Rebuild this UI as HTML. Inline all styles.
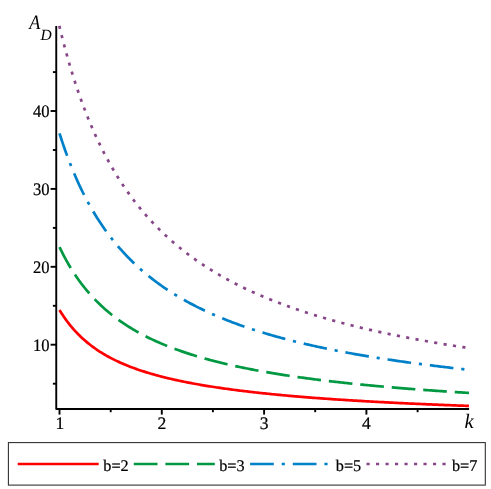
<!DOCTYPE html>
<html><head><meta charset="utf-8"><title>plot</title>
<style>html,body{margin:0;padding:0;background:#fff}svg{display:block}</style></head>
<body>
<svg width="491" height="489" viewBox="0 0 491 489" style="will-change:transform">
<rect width="491" height="489" fill="#fff"/>
<path d="M59.50,310.04 L61.00,312.46 L62.50,314.78 L64.00,317.01 L65.50,319.14 L67.00,321.19 L68.50,323.16 L70.00,325.06 L71.50,326.88 L73.00,328.64 L74.50,330.33 L76.00,331.96 L77.50,333.53 L79.00,335.04 L80.50,336.51 L82.00,337.92 L83.50,339.29 L85.00,340.61 L86.50,341.89 L88.00,343.12 L89.50,344.32 L91.00,345.48 L92.50,346.61 L94.00,347.70 L95.50,348.76 L97.00,349.79 L98.50,350.79 L100.00,351.76 L101.50,352.70 L103.00,353.62 L104.50,354.51 L106.00,355.38 L107.50,356.22 L109.00,357.05 L110.50,357.85 L112.00,358.63 L113.50,359.39 L115.00,360.13 L116.50,360.85 L118.00,361.56 L119.50,362.25 L121.00,362.92 L122.50,363.58 L124.00,364.22 L125.50,364.85 L127.00,365.47 L128.50,366.07 L130.00,366.65 L131.50,367.23 L133.00,367.79 L134.50,368.34 L136.00,368.88 L137.50,369.41 L139.00,369.92 L140.50,370.43 L142.00,370.93 L143.50,371.41 L145.00,371.89 L146.50,372.36 L148.00,372.82 L149.50,373.27 L151.00,373.71 L152.50,374.14 L154.00,374.57 L155.50,374.99 L157.00,375.40 L158.50,375.80 L160.00,376.20 L161.50,376.59 L163.00,376.97 L164.50,377.35 L166.00,377.72 L167.50,378.08 L169.00,378.44 L170.50,378.79 L172.00,379.14 L173.50,379.48 L175.00,379.81 L176.50,380.14 L178.00,380.47 L179.50,380.79 L181.00,381.10 L182.50,381.41 L184.00,381.72 L185.50,382.02 L187.00,382.32 L188.50,382.61 L190.00,382.90 L191.50,383.18 L193.00,383.46 L194.50,383.74 L196.00,384.01 L197.50,384.28 L199.00,384.54 L200.50,384.80 L202.00,385.06 L203.50,385.31 L205.00,385.57 L206.50,385.81 L208.00,386.06 L209.50,386.30 L211.00,386.54 L212.50,386.77 L214.00,387.00 L215.50,387.23 L217.00,387.46 L218.50,387.68 L220.00,387.90 L221.50,388.12 L223.00,388.33 L224.50,388.55 L226.00,388.76 L227.50,388.96 L229.00,389.17 L230.50,389.37 L232.00,389.57 L233.50,389.77 L235.00,389.97 L236.50,390.16 L238.00,390.35 L239.50,390.54 L241.00,390.73 L242.50,390.91 L244.00,391.09 L245.50,391.28 L247.00,391.45 L248.50,391.63 L250.00,391.81 L251.50,391.98 L253.00,392.15 L254.50,392.32 L256.00,392.49 L257.50,392.66 L259.00,392.82 L260.50,392.98 L262.00,393.14 L263.50,393.30 L265.00,393.46 L266.50,393.62 L268.00,393.77 L269.50,393.92 L271.00,394.08 L272.50,394.23 L274.00,394.38 L275.50,394.52 L277.00,394.67 L278.50,394.81 L280.00,394.96 L281.50,395.10 L283.00,395.24 L284.50,395.38 L286.00,395.52 L287.50,395.65 L289.00,395.79 L290.50,395.92 L292.00,396.05 L293.50,396.19 L295.00,396.32 L296.50,396.44 L298.00,396.57 L299.50,396.70 L301.00,396.83 L302.50,396.95 L304.00,397.07 L305.50,397.20 L307.00,397.31 L308.50,397.43 L310.00,397.55 L311.50,397.66 L313.00,397.78 L314.50,397.89 L316.00,398.00 L317.50,398.11 L319.00,398.22 L320.50,398.33 L322.00,398.44 L323.50,398.55 L325.00,398.66 L326.50,398.76 L328.00,398.87 L329.50,398.97 L331.00,399.07 L332.50,399.18 L334.00,399.28 L335.50,399.38 L337.00,399.48 L338.50,399.58 L340.00,399.68 L341.50,399.77 L343.00,399.87 L344.50,399.97 L346.00,400.06 L347.50,400.16 L349.00,400.25 L350.50,400.34 L352.00,400.43 L353.50,400.53 L355.00,400.62 L356.50,400.71 L358.00,400.80 L359.50,400.88 L361.00,400.97 L362.50,401.06 L364.00,401.15 L365.50,401.23 L367.00,401.32 L368.50,401.40 L370.00,401.49 L371.50,401.57 L373.00,401.65 L374.50,401.74 L376.00,401.82 L377.50,401.90 L379.00,401.98 L380.50,402.06 L382.00,402.14 L383.50,402.22 L385.00,402.30 L386.50,402.37 L388.00,402.45 L389.50,402.53 L391.00,402.60 L392.50,402.68 L394.00,402.75 L395.50,402.83 L397.00,402.90 L398.50,402.98 L400.00,403.05 L401.50,403.12 L403.00,403.19 L404.50,403.27 L406.00,403.34 L407.50,403.41 L409.00,403.48 L410.50,403.55 L412.00,403.62 L413.50,403.68 L415.00,403.75 L416.50,403.82 L418.00,403.89 L419.50,403.95 L421.00,404.02 L422.50,404.09 L424.00,404.15 L425.50,404.22 L427.00,404.28 L428.50,404.35 L430.00,404.41 L431.50,404.47 L433.00,404.54 L434.50,404.60 L436.00,404.66 L437.50,404.72 L439.00,404.78 L440.50,404.84 L442.00,404.91 L443.50,404.97 L445.00,405.03 L446.50,405.08 L448.00,405.14 L449.50,405.20 L451.00,405.26 L452.50,405.32 L454.00,405.38 L455.50,405.43 L457.00,405.49 L458.50,405.55 L460.00,405.60 L461.50,405.66 L463.00,405.72 L464.50,405.77 L466.00,405.83 L467.50,405.88 L469.00,405.94" fill="none" stroke="#ff0000" stroke-width="2.7"/>
<path d="M59.50,247.06 L61.00,250.17 L62.50,253.18 L64.00,256.08 L65.50,258.88 L67.00,261.59 L68.50,264.22 L70.00,266.75 L71.50,269.21 L73.00,271.59 L74.50,273.90 L76.00,276.14 L77.50,278.31 L79.00,280.41 L80.50,282.46 L82.00,284.45 L83.50,286.38 L85.00,288.26 L86.50,290.08 L88.00,291.86 L89.50,293.59 L91.00,295.28 L92.50,296.92 L94.00,298.51 L95.50,300.07 L97.00,301.59 L98.50,303.08 L100.00,304.52 L101.50,305.93 L103.00,307.31 L104.50,308.66 L106.00,309.97 L107.50,311.25 L109.00,312.51 L110.50,313.74 L112.00,314.94 L113.50,316.11 L115.00,317.26 L116.50,318.38 L118.00,319.48 L119.50,320.56 L121.00,321.61 L122.50,322.64 L124.00,323.66 L125.50,324.65 L127.00,325.62 L128.50,326.57 L130.00,327.50 L131.50,328.42 L133.00,329.32 L134.50,330.20 L136.00,331.06 L137.50,331.91 L139.00,332.74 L140.50,333.56 L142.00,334.37 L143.50,335.15 L145.00,335.93 L146.50,336.69 L148.00,337.44 L149.50,338.17 L151.00,338.89 L152.50,339.60 L154.00,340.30 L155.50,340.99 L157.00,341.66 L158.50,342.33 L160.00,342.98 L161.50,343.62 L163.00,344.25 L164.50,344.88 L166.00,345.49 L167.50,346.09 L169.00,346.68 L170.50,347.27 L172.00,347.84 L173.50,348.41 L175.00,348.97 L176.50,349.52 L178.00,350.06 L179.50,350.59 L181.00,351.12 L182.50,351.64 L184.00,352.15 L185.50,352.65 L187.00,353.15 L188.50,353.64 L190.00,354.12 L191.50,354.59 L193.00,355.06 L194.50,355.53 L196.00,355.98 L197.50,356.43 L199.00,356.88 L200.50,357.31 L202.00,357.75 L203.50,358.17 L205.00,358.60 L206.50,359.01 L208.00,359.42 L209.50,359.83 L211.00,360.23 L212.50,360.62 L214.00,361.01 L215.50,361.40 L217.00,361.78 L218.50,362.15 L220.00,362.52 L221.50,362.89 L223.00,363.25 L224.50,363.61 L226.00,363.96 L227.50,364.31 L229.00,364.66 L230.50,365.00 L232.00,365.34 L233.50,365.67 L235.00,366.00 L236.50,366.33 L238.00,366.65 L239.50,366.97 L241.00,367.28 L242.50,367.59 L244.00,367.90 L245.50,368.20 L247.00,368.50 L248.50,368.80 L250.00,369.10 L251.50,369.39 L253.00,369.68 L254.50,369.96 L256.00,370.24 L257.50,370.52 L259.00,370.80 L260.50,371.07 L262.00,371.34 L263.50,371.61 L265.00,371.87 L266.50,372.14 L268.00,372.39 L269.50,372.65 L271.00,372.91 L272.50,373.16 L274.00,373.41 L275.50,373.65 L277.00,373.90 L278.50,374.14 L280.00,374.38 L281.50,374.61 L283.00,374.85 L284.50,375.08 L286.00,375.31 L287.50,375.54 L289.00,375.77 L290.50,375.99 L292.00,376.21 L293.50,376.43 L295.00,376.65 L296.50,376.86 L298.00,377.08 L299.50,377.29 L301.00,377.50 L302.50,377.70 L304.00,377.91 L305.50,378.11 L307.00,378.32 L308.50,378.52 L310.00,378.71 L311.50,378.91 L313.00,379.11 L314.50,379.30 L316.00,379.49 L317.50,379.68 L319.00,379.87 L320.50,380.06 L322.00,380.24 L323.50,380.42 L325.00,380.61 L326.50,380.79 L328.00,380.96 L329.50,381.14 L331.00,381.32 L332.50,381.49 L334.00,381.66 L335.50,381.84 L337.00,382.01 L338.50,382.17 L340.00,382.34 L341.50,382.51 L343.00,382.67 L344.50,382.83 L346.00,383.00 L347.50,383.16 L349.00,383.32 L350.50,383.47 L352.00,383.63 L353.50,383.79 L355.00,383.94 L356.50,384.09 L358.00,384.24 L359.50,384.40 L361.00,384.54 L362.50,384.69 L364.00,384.84 L365.50,384.99 L367.00,385.13 L368.50,385.28 L370.00,385.42 L371.50,385.56 L373.00,385.70 L374.50,385.84 L376.00,385.98 L377.50,386.12 L379.00,386.25 L380.50,386.39 L382.00,386.52 L383.50,386.66 L385.00,386.79 L386.50,386.92 L388.00,387.05 L389.50,387.18 L391.00,387.31 L392.50,387.44 L394.00,387.56 L395.50,387.69 L397.00,387.81 L398.50,387.94 L400.00,388.06 L401.50,388.18 L403.00,388.31 L404.50,388.43 L406.00,388.55 L407.50,388.67 L409.00,388.78 L410.50,388.90 L412.00,389.02 L413.50,389.13 L415.00,389.25 L416.50,389.36 L418.00,389.48 L419.50,389.59 L421.00,389.70 L422.50,389.81 L424.00,389.92 L425.50,390.03 L427.00,390.14 L428.50,390.25 L430.00,390.36 L431.50,390.47 L433.00,390.57 L434.50,390.68 L436.00,390.78 L437.50,390.89 L439.00,390.99 L440.50,391.09 L442.00,391.20 L443.50,391.30 L445.00,391.40 L446.50,391.50 L448.00,391.60 L449.50,391.70 L451.00,391.80 L452.50,391.89 L454.00,391.99 L455.50,392.09 L457.00,392.18 L458.50,392.28 L460.00,392.37 L461.50,392.47 L463.00,392.56 L464.50,392.65 L466.00,392.75 L467.50,392.84 L469.00,392.93" fill="none" stroke="#009942" stroke-width="2.7" stroke-dasharray="23.700 7.900"/>
<path d="M59.50,133.29 L61.00,138.01 L62.50,142.58 L64.00,146.99 L65.50,151.27 L67.00,155.41 L68.50,159.43 L70.00,163.33 L71.50,167.11 L73.00,170.78 L74.50,174.34 L76.00,177.80 L77.50,181.17 L79.00,184.44 L80.50,187.62 L82.00,190.72 L83.50,193.74 L85.00,196.67 L86.50,199.54 L88.00,202.32 L89.50,205.04 L91.00,207.70 L92.50,210.28 L94.00,212.81 L95.50,215.27 L97.00,217.68 L98.50,220.03 L100.00,222.33 L101.50,224.57 L103.00,226.77 L104.50,228.91 L106.00,231.01 L107.50,233.06 L109.00,235.07 L110.50,237.04 L112.00,238.97 L113.50,240.85 L115.00,242.70 L116.50,244.51 L118.00,246.28 L119.50,248.02 L121.00,249.72 L122.50,251.39 L124.00,253.03 L125.50,254.64 L127.00,256.21 L128.50,257.76 L130.00,259.28 L131.50,260.77 L133.00,262.23 L134.50,263.67 L136.00,265.08 L137.50,266.47 L139.00,267.83 L140.50,269.17 L142.00,270.48 L143.50,271.78 L145.00,273.05 L146.50,274.30 L148.00,275.52 L149.50,276.73 L151.00,277.92 L152.50,279.09 L154.00,280.24 L155.50,281.37 L157.00,282.49 L158.50,283.59 L160.00,284.67 L161.50,285.73 L163.00,286.78 L164.50,287.81 L166.00,288.82 L167.50,289.82 L169.00,290.81 L170.50,291.78 L172.00,292.74 L173.50,293.68 L175.00,294.61 L176.50,295.52 L178.00,296.43 L179.50,297.32 L181.00,298.19 L182.50,299.06 L184.00,299.91 L185.50,300.75 L187.00,301.58 L188.50,302.40 L190.00,303.21 L191.50,304.01 L193.00,304.80 L194.50,305.57 L196.00,306.34 L197.50,307.10 L199.00,307.84 L200.50,308.58 L202.00,309.31 L203.50,310.03 L205.00,310.73 L206.50,311.44 L208.00,312.13 L209.50,312.81 L211.00,313.49 L212.50,314.15 L214.00,314.81 L215.50,315.46 L217.00,316.10 L218.50,316.74 L220.00,317.37 L221.50,317.99 L223.00,318.60 L224.50,319.21 L226.00,319.81 L227.50,320.40 L229.00,320.98 L230.50,321.56 L232.00,322.14 L233.50,322.70 L235.00,323.26 L236.50,323.82 L238.00,324.36 L239.50,324.90 L241.00,325.44 L242.50,325.97 L244.00,326.49 L245.50,327.01 L247.00,327.52 L248.50,328.03 L250.00,328.53 L251.50,329.03 L253.00,329.52 L254.50,330.01 L256.00,330.49 L257.50,330.97 L259.00,331.44 L260.50,331.91 L262.00,332.37 L263.50,332.83 L265.00,333.28 L266.50,333.73 L268.00,334.17 L269.50,334.61 L271.00,335.05 L272.50,335.48 L274.00,335.90 L275.50,336.33 L277.00,336.75 L278.50,337.16 L280.00,337.57 L281.50,337.98 L283.00,338.38 L284.50,338.78 L286.00,339.18 L287.50,339.57 L289.00,339.96 L290.50,340.34 L292.00,340.72 L293.50,341.10 L295.00,341.47 L296.50,341.84 L298.00,342.21 L299.50,342.58 L301.00,342.94 L302.50,343.29 L304.00,343.65 L305.50,344.00 L307.00,344.35 L308.50,344.69 L310.00,345.04 L311.50,345.38 L313.00,345.71 L314.50,346.05 L316.00,346.38 L317.50,346.70 L319.00,347.03 L320.50,347.35 L322.00,347.67 L323.50,347.99 L325.00,348.30 L326.50,348.61 L328.00,348.92 L329.50,349.23 L331.00,349.53 L332.50,349.84 L334.00,350.13 L335.50,350.43 L337.00,350.73 L338.50,351.02 L340.00,351.31 L341.50,351.60 L343.00,351.88 L344.50,352.16 L346.00,352.44 L347.50,352.72 L349.00,353.00 L350.50,353.27 L352.00,353.54 L353.50,353.81 L355.00,354.08 L356.50,354.35 L358.00,354.61 L359.50,354.87 L361.00,355.13 L362.50,355.39 L364.00,355.65 L365.50,355.90 L367.00,356.15 L368.50,356.40 L370.00,356.65 L371.50,356.90 L373.00,357.14 L374.50,357.39 L376.00,357.63 L377.50,357.87 L379.00,358.11 L380.50,358.34 L382.00,358.58 L383.50,358.81 L385.00,359.04 L386.50,359.27 L388.00,359.50 L389.50,359.72 L391.00,359.95 L392.50,360.17 L394.00,360.39 L395.50,360.61 L397.00,360.83 L398.50,361.05 L400.00,361.26 L401.50,361.48 L403.00,361.69 L404.50,361.90 L406.00,362.11 L407.50,362.32 L409.00,362.52 L410.50,362.73 L412.00,362.93 L413.50,363.14 L415.00,363.34 L416.50,363.54 L418.00,363.73 L419.50,363.93 L421.00,364.13 L422.50,364.32 L424.00,364.52 L425.50,364.71 L427.00,364.90 L428.50,365.09 L430.00,365.28 L431.50,365.46 L433.00,365.65 L434.50,365.84 L436.00,366.02 L437.50,366.20 L439.00,366.38 L440.50,366.56 L442.00,366.74 L443.50,366.92 L445.00,367.10 L446.50,367.27 L448.00,367.45 L449.50,367.62 L451.00,367.79 L452.50,367.97 L454.00,368.14 L455.50,368.31 L457.00,368.47 L458.50,368.64 L460.00,368.81 L461.50,368.97 L463.00,369.14 L464.50,369.30 L466.00,369.46 L467.50,369.63 L469.00,369.79" fill="none" stroke="#0080c8" stroke-width="2.7" stroke-dasharray="23.711 7.904 3.162 7.904"/>
<path d="M59.31,25.87 L59.50,26.65 L61.00,32.79 L62.50,38.75 L64.00,44.53 L65.50,50.14 L67.00,55.58 L68.50,60.87 L70.00,66.01 L71.50,71.00 L73.00,75.86 L74.50,80.58 L76.00,85.18 L77.50,89.65 L79.00,94.01 L80.50,98.25 L82.00,102.39 L83.50,106.42 L85.00,110.35 L86.50,114.19 L88.00,117.93 L89.50,121.59 L91.00,125.15 L92.50,128.63 L94.00,132.04 L95.50,135.36 L97.00,138.61 L98.50,141.79 L100.00,144.89 L101.50,147.93 L103.00,150.91 L104.50,153.81 L106.00,156.66 L107.50,159.45 L109.00,162.18 L110.50,164.85 L112.00,167.47 L113.50,170.04 L115.00,172.56 L116.50,175.02 L118.00,177.44 L119.50,179.81 L121.00,182.14 L122.50,184.42 L124.00,186.66 L125.50,188.86 L127.00,191.01 L128.50,193.13 L130.00,195.21 L131.50,197.25 L133.00,199.26 L134.50,201.23 L136.00,203.16 L137.50,205.06 L139.00,206.93 L140.50,208.77 L142.00,210.58 L143.50,212.35 L145.00,214.10 L146.50,215.82 L148.00,217.51 L149.50,219.17 L151.00,220.81 L152.50,222.42 L154.00,224.00 L155.50,225.56 L157.00,227.10 L158.50,228.61 L160.00,230.10 L161.50,231.56 L163.00,233.00 L164.50,234.43 L166.00,235.83 L167.50,237.21 L169.00,238.57 L170.50,239.91 L172.00,241.23 L173.50,242.53 L175.00,243.81 L176.50,245.08 L178.00,246.32 L179.50,247.55 L181.00,248.77 L182.50,249.96 L184.00,251.14 L185.50,252.31 L187.00,253.45 L188.50,254.59 L190.00,255.70 L191.50,256.81 L193.00,257.90 L194.50,258.97 L196.00,260.03 L197.50,261.08 L199.00,262.11 L200.50,263.13 L202.00,264.14 L203.50,265.13 L205.00,266.12 L206.50,267.09 L208.00,268.04 L209.50,268.99 L211.00,269.92 L212.50,270.85 L214.00,271.76 L215.50,272.66 L217.00,273.55 L218.50,274.43 L220.00,275.30 L221.50,276.16 L223.00,277.01 L224.50,277.85 L226.00,278.68 L227.50,279.51 L229.00,280.32 L230.50,281.12 L232.00,281.91 L233.50,282.70 L235.00,283.47 L236.50,284.24 L238.00,285.00 L239.50,285.75 L241.00,286.49 L242.50,287.23 L244.00,287.96 L245.50,288.67 L247.00,289.39 L248.50,290.09 L250.00,290.79 L251.50,291.48 L253.00,292.16 L254.50,292.83 L256.00,293.50 L257.50,294.16 L259.00,294.82 L260.50,295.46 L262.00,296.11 L263.50,296.74 L265.00,297.37 L266.50,297.99 L268.00,298.61 L269.50,299.22 L271.00,299.82 L272.50,300.42 L274.00,301.01 L275.50,301.60 L277.00,302.18 L278.50,302.76 L280.00,303.33 L281.50,303.89 L283.00,304.45 L284.50,305.00 L286.00,305.55 L287.50,306.10 L289.00,306.64 L290.50,307.17 L292.00,307.70 L293.50,308.22 L295.00,308.74 L296.50,309.26 L298.00,309.77 L299.50,310.27 L301.00,310.77 L302.50,311.27 L304.00,311.76 L305.50,312.25 L307.00,312.73 L308.50,313.21 L310.00,313.69 L311.50,314.16 L313.00,314.63 L314.50,315.09 L316.00,315.55 L317.50,316.00 L319.00,316.46 L320.50,316.90 L322.00,317.35 L323.50,317.79 L325.00,318.22 L326.50,318.66 L328.00,319.09 L329.50,319.51 L331.00,319.93 L332.50,320.35 L334.00,320.77 L335.50,321.18 L337.00,321.59 L338.50,321.99 L340.00,322.40 L341.50,322.80 L343.00,323.19 L344.50,323.58 L346.00,323.97 L347.50,324.36 L349.00,324.74 L350.50,325.13 L352.00,325.50 L353.50,325.88 L355.00,326.25 L356.50,326.62 L358.00,326.98 L359.50,327.35 L361.00,327.71 L362.50,328.07 L364.00,328.42 L365.50,328.77 L367.00,329.12 L368.50,329.47 L370.00,329.82 L371.50,330.16 L373.00,330.50 L374.50,330.84 L376.00,331.17 L377.50,331.50 L379.00,331.83 L380.50,332.16 L382.00,332.49 L383.50,332.81 L385.00,333.13 L386.50,333.45 L388.00,333.76 L389.50,334.08 L391.00,334.39 L392.50,334.70 L394.00,335.01 L395.50,335.31 L397.00,335.62 L398.50,335.92 L400.00,336.22 L401.50,336.51 L403.00,336.81 L404.50,337.10 L406.00,337.39 L407.50,337.68 L409.00,337.97 L410.50,338.25 L412.00,338.53 L413.50,338.82 L415.00,339.09 L416.50,339.37 L418.00,339.65 L419.50,339.92 L421.00,340.19 L422.50,340.46 L424.00,340.73 L425.50,341.00 L427.00,341.26 L428.50,341.53 L430.00,341.79 L431.50,342.05 L433.00,342.31 L434.50,342.56 L436.00,342.82 L437.50,343.07 L439.00,343.32 L440.50,343.57 L442.00,343.82 L443.50,344.07 L445.00,344.32 L446.50,344.56 L448.00,344.80 L449.50,345.04 L451.00,345.28 L452.50,345.52 L454.00,345.76 L455.50,345.99 L457.00,346.23 L458.50,346.46 L460.00,346.69 L461.50,346.92 L463.00,347.15 L464.50,347.37 L466.00,347.60 L467.50,347.82 L469.00,348.04" fill="none" stroke="#874687" stroke-width="2.7" stroke-dasharray="3.165 6.330"/>
<g stroke="#000" stroke-width="1.9" fill="none">
<path d="M56.25,26.0 L56.25,408.95 L469.1,408.95" stroke-linejoin="round"/>
</g>
<g stroke="#000" stroke-width="1.9" fill="none">
<line x1="59.5" y1="408.95" x2="59.5" y2="414.6"/>
<line x1="110.7" y1="408.95" x2="110.7" y2="412.2"/>
<line x1="161.8" y1="408.95" x2="161.8" y2="414.6"/>
<line x1="212.9" y1="408.95" x2="212.9" y2="412.2"/>
<line x1="264.1" y1="408.95" x2="264.1" y2="414.6"/>
<line x1="315.2" y1="408.95" x2="315.2" y2="412.2"/>
<line x1="366.4" y1="408.95" x2="366.4" y2="414.6"/>
<line x1="417.6" y1="408.95" x2="417.6" y2="412.2"/>
<line x1="56.25" y1="383.7" x2="52.9" y2="383.7"/>
<line x1="56.25" y1="344.7" x2="50.6" y2="344.7"/>
<line x1="56.25" y1="305.8" x2="52.9" y2="305.8"/>
<line x1="56.25" y1="266.8" x2="50.6" y2="266.8"/>
<line x1="56.25" y1="227.9" x2="52.9" y2="227.9"/>
<line x1="56.25" y1="188.9" x2="50.6" y2="188.9"/>
<line x1="56.25" y1="150.0" x2="52.9" y2="150.0"/>
<line x1="56.25" y1="111.0" x2="50.6" y2="111.0"/>
<line x1="56.25" y1="72.1" x2="52.9" y2="72.1"/>
</g>
<g font-family="'Liberation Serif', serif" font-size="17.6" fill="#000" stroke="#000" stroke-width="0.2" style="text-rendering:geometricPrecision">
<text x="60.0" y="428.8" text-anchor="middle">1</text>
<text x="161.8" y="428.8" text-anchor="middle">2</text>
<text x="264.1" y="428.8" text-anchor="middle">3</text>
<text x="366.4" y="428.8" text-anchor="middle">4</text>
<text x="49.6" y="350.6" text-anchor="end" textLength="16.6" lengthAdjust="spacingAndGlyphs">10</text>
<text x="49.6" y="272.7" text-anchor="end" textLength="16.6" lengthAdjust="spacingAndGlyphs">20</text>
<text x="49.6" y="194.8" text-anchor="end" textLength="16.6" lengthAdjust="spacingAndGlyphs">30</text>
<text x="49.6" y="116.9" text-anchor="end" textLength="16.6" lengthAdjust="spacingAndGlyphs">40</text>
</g>
<g font-family="'Liberation Serif', serif" font-style="italic" fill="#000" style="text-rendering:geometricPrecision">
<text x="29.3" y="28.8" font-size="20.5" textLength="11.1" lengthAdjust="spacingAndGlyphs">A</text>
<text x="40.4" y="39.9" font-size="15.5">D</text>
<text x="464.5" y="428.2" font-size="20.5">k</text>
</g>
<rect x="8.4" y="442.6" width="476.9" height="42.5" fill="none" stroke="#2a2a2a" stroke-width="1.05"/>
<line x1="17.7" y1="464" x2="98.7" y2="464" stroke="#ff0000" stroke-width="2.7"/>
<text x="103.3" y="471.1" font-family="'Liberation Serif', serif" font-size="16.3" fill="#000" stroke="#000" stroke-width="0.2" style="text-rendering:geometricPrecision">b=2</text>
<line x1="133.8" y1="464" x2="214.8" y2="464" stroke="#009942" stroke-width="2.7" stroke-dasharray="23.700 7.900"/>
<text x="219.2" y="471.1" font-family="'Liberation Serif', serif" font-size="16.3" fill="#000" stroke="#000" stroke-width="0.2" style="text-rendering:geometricPrecision">b=3</text>
<line x1="250.1" y1="464" x2="331.1" y2="464" stroke="#0080c8" stroke-width="2.7" stroke-dasharray="23.711 7.904 3.162 7.904"/>
<text x="335.8" y="471.1" font-family="'Liberation Serif', serif" font-size="16.3" fill="#000" stroke="#000" stroke-width="0.2" style="text-rendering:geometricPrecision">b=5</text>
<line x1="366.5" y1="464" x2="447.5" y2="464" stroke="#874687" stroke-width="2.7" stroke-dasharray="3.165 6.330"/>
<text x="451.9" y="471.1" font-family="'Liberation Serif', serif" font-size="16.3" fill="#000" stroke="#000" stroke-width="0.2" style="text-rendering:geometricPrecision">b=7</text>
</svg>
</body></html>
